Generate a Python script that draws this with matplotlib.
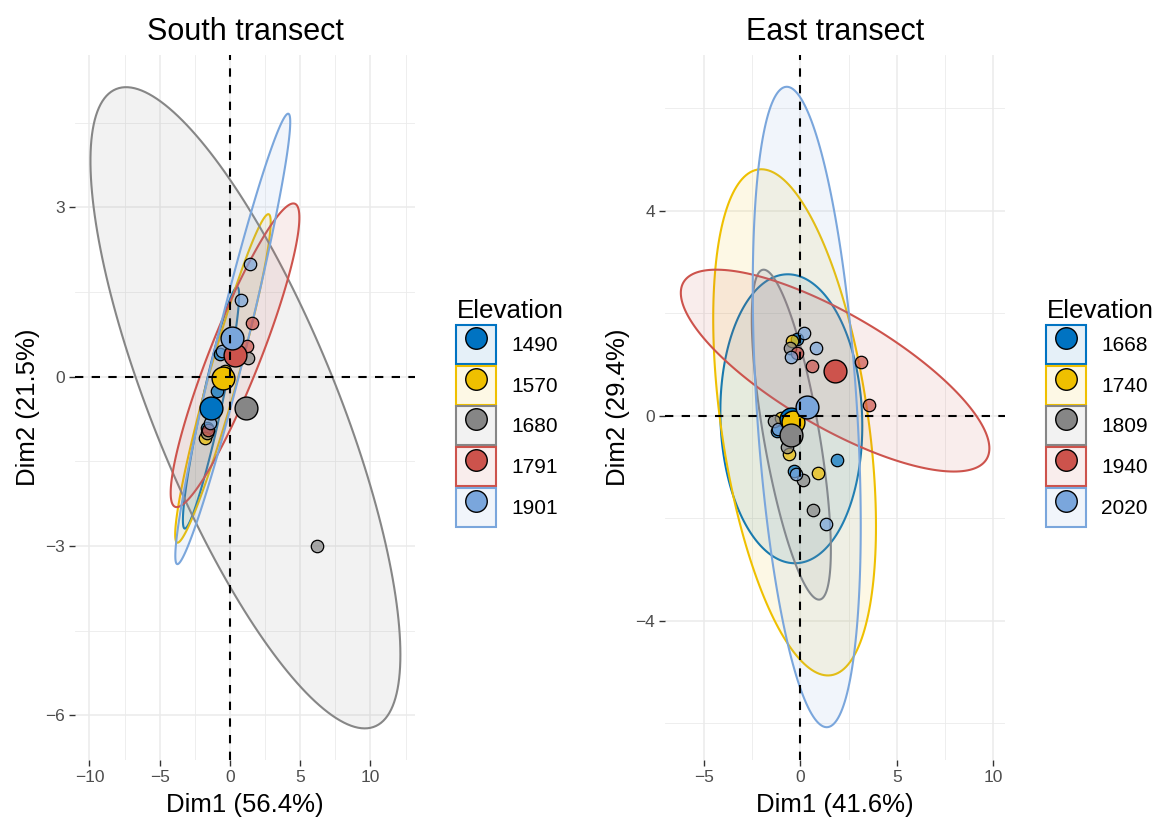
import numpy as np
from matplotlib import pyplot as plt
from matplotlib import rcParams
from matplotlib.colors import to_rgba
from matplotlib.lines import Line2D
from matplotlib.patches import Patch
from matplotlib.legend_handler import HandlerTuple

rcParams["font.family"] = ["Liberation Sans", "DejaVu Sans"]
rcParams["axes.unicode_minus"] = True

colors = ["#0073C2", "#EFC000", "#868686", "#CD534C", "#7AA6DC"]

# South transect
south_levels = ["1490", "1570", "1680", "1791", "1901"]
south_x = [
    [-0.71, -0.95, -1.60],
    [-0.35, -1.78],
    [6.20, 1.30, -1.66],
    [1.54, 1.19, -1.54],
    [1.42, 0.76, -0.55, -1.42],
]
south_y = [
    [0.40, -0.25, -0.90],
    [0.10, -1.09],
    [-3.00, 0.34, -1.00],
    [0.96, 0.55, -0.94],
    [2.00, 1.36, 0.45, -0.82],
]
south_mean_x = [-1.35, -0.47, 1.12, 0.36, 0.12]
south_mean_y = [-0.55, -0.02, -0.55, 0.39, 0.68]
# ellipse centre, half extents along x and y, and correlation
south_ell_cx = [-1.35, -0.50, 1.10, 0.36, 0.20]
south_ell_cy = [-0.55, -0.03, -0.55, 0.38, 0.67]
south_ell_w = [2.00, 3.40, 11.03, 4.58, 4.09]
south_ell_h = [2.14, 2.91, 5.68, 2.69, 3.99]
south_ell_r = [0.93, 0.95, -0.77, 0.906, 0.963]

# East transect
east_levels = ["1668", "1740", "1809", "1940", "2020"]
east_x = [
    [1.90, -0.35, -1.20, -0.20],
    [-0.43, -0.60, 0.90, -1.00],
    [-0.55, -1.38, -0.69, 0.14, 0.66],
    [-0.17, 0.60, 3.16, 3.54],
    [0.21, -0.48, 0.83, -0.22, 1.33, -1.15],
]
east_y = [
    [-0.87, -1.08, -0.30, 1.50],
    [1.46, -0.74, -1.12, -0.05],
    [1.32, -0.10, -0.61, -1.25, -1.84],
    [1.23, 0.97, 1.04, 0.20],
    [1.61, 1.14, 1.33, -1.13, -2.11, -0.25],
]
east_mean_x = [-0.47, -0.38, -0.47, 1.80, 0.33]
east_mean_y = [-0.06, -0.12, -0.37, 0.87, 0.17]
east_ell_cx = [-0.47, -0.30, -0.47, 1.80, 0.33]
east_ell_cy = [-0.06, -0.13, -0.37, 0.88, 0.17]
east_ell_w = [3.68, 4.22, 2.05, 8.00, 2.80]
east_ell_h = [2.82, 4.94, 3.22, 1.97, 6.25]
east_ell_r = [-0.05, -0.41, -0.70, -0.77, -0.37]


def ellipse_path(cx, cy, w, h, r, n=200):
    t = np.linspace(0, 2 * np.pi, n)
    x = cx + w * np.cos(t)
    y = cy + h * (r * np.cos(t) + np.sqrt(1 - r ** 2) * np.sin(t))
    return x, y


def draw_panel(ax, title, levels, px, py, mx, my, ecx, ecy, ew, eh, er,
               xlab, ylab, xlim, ylim, xticks, yticks, xminor, yminor):
    for i, c in enumerate(colors):
        ex, ey = ellipse_path(ecx[i], ecy[i], ew[i], eh[i], er[i])
        ax.fill(ex, ey, facecolor=to_rgba(c, 0.1), edgecolor=c, lw=1.5,
                zorder=2)
    for i, c in enumerate(colors):
        ax.scatter(px[i], py[i], s=80, facecolor=to_rgba(c, 0.7),
                   edgecolor="black", lw=0.9, zorder=3)
    for i, c in enumerate(colors):
        ax.scatter(mx[i], my[i], s=270, facecolor=c, edgecolor="black",
                   lw=1.0, zorder=4)
    ax.axhline(0, color="black", ls=(0, (4, 4)), lw=1.5, zorder=5)
    ax.axvline(0, color="black", ls=(0, (4, 4)), lw=1.5, zorder=5)

    ax.set_xlim(xlim)
    ax.set_ylim(ylim)
    ax.set_xticks(xticks)
    ax.set_yticks(yticks)
    ax.set_xticks(xminor, minor=True)
    ax.set_yticks(yminor, minor=True)
    ax.grid(True, which="major", color="#EBEBEB", lw=1.1, zorder=0)
    ax.grid(True, which="minor", color="#EBEBEB", lw=0.6, zorder=0)
    ax.set_axisbelow(True)
    for s in ax.spines.values():
        s.set_visible(False)
    ax.tick_params(which="major", length=4, width=1.0, color="#333333",
                   labelsize=12.5, labelcolor="#4D4D4D", pad=3)
    ax.tick_params(which="minor", length=0)
    ax.set_title(title, fontsize=22, pad=11)
    ax.set_xlabel(xlab, fontsize=18.5, labelpad=6)
    ax.set_ylabel(ylab, fontsize=18.5, labelpad=4)

    handles = []
    for c in colors:
        box = Patch(facecolor=to_rgba(c, 0.1), edgecolor=c, lw=1.5)
        dot = Line2D([], [], ls="none", marker="o", ms=15.5,
                     markerfacecolor=c, markeredgecolor="black", mew=1.0)
        handles.append((box, dot))
    leg = ax.legend(handles, levels, title="Elevation",
                    handler_map={tuple: HandlerTuple(ndivide=1)},
                    loc="center left", bbox_to_anchor=(1.122, 0.492),
                    frameon=False, fontsize=15, title_fontsize=18.7,
                    handlelength=1.92, handleheight=2.52, labelspacing=0.07,
                    handletextpad=0.72, borderaxespad=0, borderpad=0)
    leg._legend_box.align = "left"


fig = plt.figure(figsize=(11.54, 8.24), dpi=100)
ax1 = fig.add_axes([75 / 1154, 64 / 824, 340 / 1154, 705 / 824])
ax2 = fig.add_axes([665 / 1154, 64 / 824, 340 / 1154, 705 / 824])

draw_panel(ax1, "South transect", south_levels, south_x, south_y,
           south_mean_x, south_mean_y, south_ell_cx, south_ell_cy,
           south_ell_w, south_ell_h, south_ell_r,
           "Dim1 (56.4%)", "Dim2 (21.5%)", (-11.03, 13.17), (-6.79, 5.70),
           [-10, -5, 0, 5, 10], [-6, -3, 0, 3],
           [-7.5, -2.5, 2.5, 7.5, 12.5], [-4.5, -1.5, 1.5, 4.5])

draw_panel(ax2, "East transect", east_levels, east_x, east_y,
           east_mean_x, east_mean_y, east_ell_cx, east_ell_cy,
           east_ell_w, east_ell_h, east_ell_r,
           "Dim1 (41.6%)", "Dim2 (29.4%)", (-7.02, 10.61), (-6.72, 7.04),
           [-5, 0, 5, 10], [-4, 0, 4],
           [-2.5, 2.5, 7.5], [-6, -2, 2, 6])

fig.savefig("out.png", dpi=100)
